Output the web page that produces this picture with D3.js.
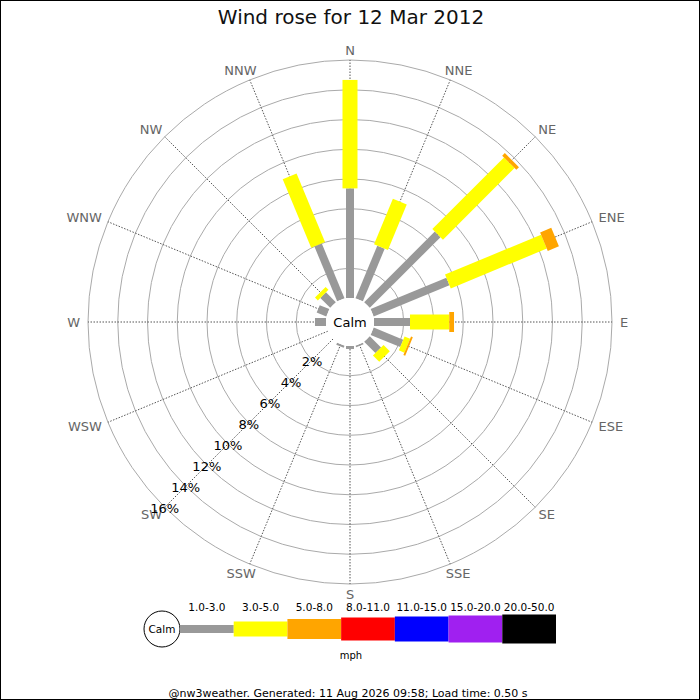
<!DOCTYPE html>
<html>
<head>
<meta charset="utf-8">
<script src="https://cdn.jsdelivr.net/npm/d3@7"></script>
<style>
  body { margin: 0; background: #fff; }
  text { font-family: "DejaVu Sans", sans-serif; }
</style>
</head>
<body>
<div id="rose"></div>
<script>
// directions, clockwise from north
const directions = ["N", "NNE", "NE", "ENE", "E", "ESE", "SE", "SSE",
                    "S", "SSW", "SW", "WSW", "W", "WNW", "NW", "NNW"];

// speed bands (mph) and their colours
const speedBands = ["1.0-3.0", "3.0-5.0", "5.0-8.0", "8.0-11.0", "11.0-15.0", "15.0-20.0", "20.0-50.0"];
const bandColors = ["#999999", "#ffff00", "#ffa500", "#ff0000", "#0000ff", "#a020f0", "#000000"];

// percent of time per direction, one list per band
const band1to3   = [7.37, 3.83, 6.72, 5.51, 2.42, 2.15, 1.07, 0.12, 0.2, 0.15, 0, 0, 0.74, 0.7, 0.94, 3.99];
const band3to5   = [7.29, 3.31, 6.81, 6.99, 2.64, 0.40, 0.60, 0, 0, 0, 0, 0, 0, 0, 0.27, 5.0];
const band5to8   = [0, 0, 0.25, 0.81, 0.32, 0.13, 0, 0, 0, 0, 0, 0, 0, 0, 0, 0];
const bandValues = [band1to3, band3to5, band5to8];

const ringTicks = [2, 4, 6, 8, 10, 12, 14, 16];

const title = "Wind rose for 12 Mar 2012";
const footer = "@nw3weather. Generated: 11 Aug 2026 09:58; Load time: 0.50 s";

// drawing sizes
const width = 700, height = 700;
const cx = 350, cy = 322;
const calmRadius = 24;
const barWidths = [8, 15, 20, 23, 25, 27, 29];

const svg = d3.select("#rose")
    .append("svg")
    .attr("width", width)
    .attr("height", height);

svg.append("rect")
    .attr("x", 0.5).attr("y", 0.5)
    .attr("width", width - 1).attr("height", height - 1)
    .attr("fill", "#fff")
    .attr("stroke", "#000");

svg.append("text")
    .attr("x", 351).attr("y", 24)
    .attr("text-anchor", "middle")
    .attr("font-size", 20)
    .attr("fill", "#111")
    .text(title);

const r = d3.scaleLinear().domain([0, 16]).range([calmRadius, 262]);
const angle = d3.scalePoint().domain(directions).range([0, 360 - 22.5]);

const g = svg.append("g")
    .attr("transform", "translate(" + cx + "," + cy + ")");

// rings
g.selectAll("circle.ring")
    .data(ringTicks)
    .enter()
    .append("circle")
    .attr("class", "ring")
    .attr("r", d => r(d))
    .attr("fill", "none")
    .attr("stroke", "#aaa")
    .attr("stroke-width", 1);

// spokes
g.selectAll("line.spoke")
    .data(directions)
    .enter()
    .append("line")
    .attr("class", "spoke")
    .attr("x1", 0).attr("y1", 0)
    .attr("x2", d => r(16) * Math.sin(angle(d) * Math.PI / 180))
    .attr("y2", d => -r(16) * Math.cos(angle(d) * Math.PI / 180))
    .attr("stroke", "#555")
    .attr("stroke-width", 1)
    .attr("stroke-dasharray", "1.5,1.5");

// direction labels
g.selectAll("text.dir")
    .data(directions)
    .enter()
    .append("text")
    .attr("class", "dir")
    .attr("font-size", 13)
    .attr("fill", "#666")
    .attr("text-anchor", "middle")
    .attr("dominant-baseline", "central")
    .text(d => d)
    .each(function (d) {
        const a = angle(d) * Math.PI / 180;
        const s = Math.sin(a), c = Math.cos(a);
        const hw = this.getComputedTextLength() / 2;
        d3.select(this)
            .attr("x", (r(16) + 8) * s + s * hw)
            .attr("y", -(r(16) + 7) * c - c * 3);
    });

// stacked bars
const segments = [];
directions.forEach((dir, i) => {
    let cum = 0;
    bandValues.forEach((vals, b) => {
        const v = vals[i];
        if (v > 0) segments.push({ dir: dir, band: b, from: cum, to: cum + v });
        cum += v;
    });
});

g.selectAll("rect.bar")
    .data(segments)
    .enter()
    .append("rect")
    .attr("class", "bar")
    .attr("x", d => -barWidths[d.band] / 2)
    .attr("y", d => -r(d.to))
    .attr("width", d => barWidths[d.band])
    .attr("height", d => r(d.to) - r(d.from))
    .attr("fill", d => bandColors[d.band])
    .attr("transform", d => "rotate(" + angle(d.dir) + ")");

// calm circle
g.append("circle")
    .attr("r", calmRadius)
    .attr("fill", "#fff");
g.append("text")
    .attr("text-anchor", "middle")
    .attr("dominant-baseline", "central")
    .attr("font-size", 13)
    .attr("fill", "#000")
    .text("Calm");

// percent labels along SW
g.selectAll("text.pct")
    .data(ringTicks)
    .enter()
    .append("text")
    .attr("class", "pct")
    .attr("x", d => -r(d) * Math.SQRT1_2)
    .attr("y", d => r(d) * Math.SQRT1_2 + 1)
    .attr("text-anchor", "middle")
    .attr("dominant-baseline", "central")
    .attr("font-size", 13)
    .attr("fill", "#000")
    .text(d => d + "%");

// legend
const legendX = d3.scaleBand().domain(speedBands).range([180, 556]);
const legendY = 629;
const legend = svg.append("g");

legend.append("circle")
    .attr("cx", 162).attr("cy", legendY).attr("r", 18)
    .attr("fill", "#fff").attr("stroke", "#000");
legend.append("text")
    .attr("x", 162).attr("y", legendY)
    .attr("text-anchor", "middle")
    .attr("dominant-baseline", "central")
    .attr("font-size", 10.5)
    .text("Calm");

legend.selectAll("rect")
    .data(speedBands)
    .enter()
    .append("rect")
    .attr("x", d => legendX(d))
    .attr("y", (d, i) => legendY - barWidths[i] / 2)
    .attr("width", legendX.bandwidth())
    .attr("height", (d, i) => barWidths[i])
    .attr("fill", (d, i) => bandColors[i]);

legend.selectAll("text.band")
    .data(speedBands)
    .enter()
    .append("text")
    .attr("class", "band")
    .attr("x", d => legendX(d) + legendX.bandwidth() / 2)
    .attr("y", 611)
    .attr("text-anchor", "middle")
    .attr("font-size", 10.5)
    .attr("fill", "#000")
    .text(d => d);

legend.append("text")
    .attr("x", 351).attr("y", 659)
    .attr("text-anchor", "middle")
    .attr("font-size", 10)
    .text("mph");

svg.append("text")
    .attr("x", 348).attr("y", 697)
    .attr("text-anchor", "middle")
    .attr("font-size", 11)
    .attr("fill", "#000")
    .text(footer);
</script>
</body>
</html>
